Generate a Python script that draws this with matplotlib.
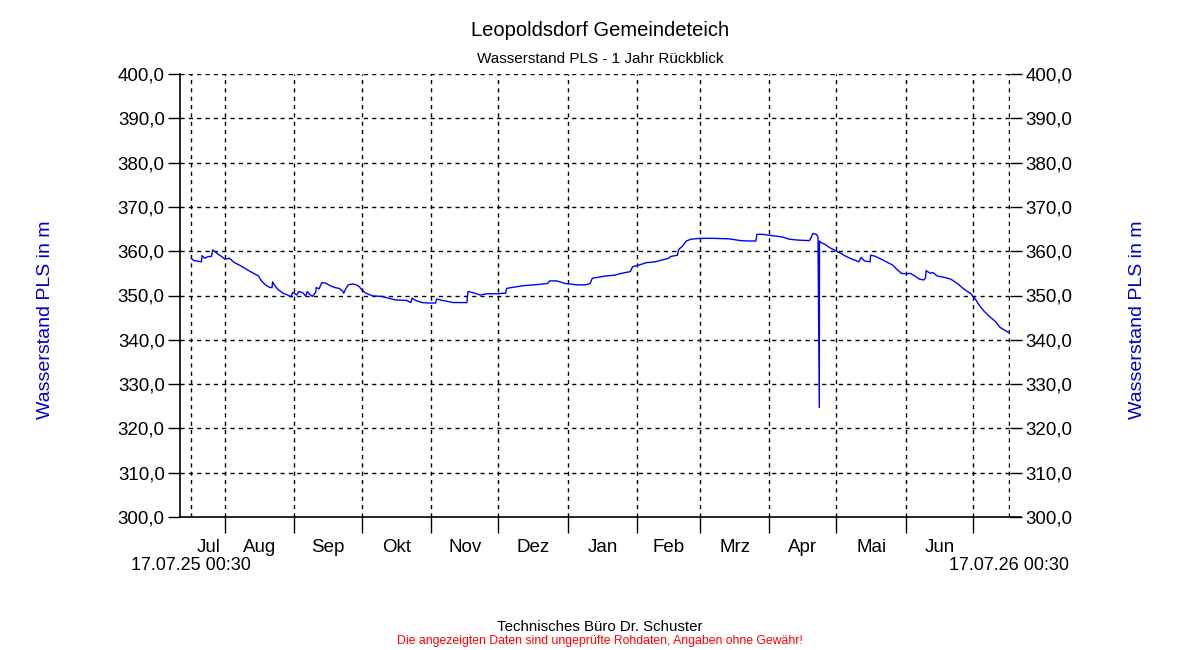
import matplotlib
matplotlib.use("Agg")
import matplotlib.pyplot as plt
import matplotlib.dates as mdates
import matplotlib.transforms as mtransforms
import pandas as pd
from matplotlib.ticker import FuncFormatter, FixedLocator

plt.rcParams['font.family'] = ['Liberation Sans', 'DejaVu Sans']

# ---------------- data ----------------
times = [
    "2025-07-17 00:30", "2025-07-18", "2025-07-21 12:00", "2025-07-21 18:00", "2025-07-23",
    "2025-07-24 12:00", "2025-07-26", "2025-07-26 12:00", "2025-07-27", "2025-07-29",
    "2025-07-30 12:00", "2025-08-01", "2025-08-03", "2025-08-05", "2025-08-08",
    "2025-08-10", "2025-08-13", "2025-08-16", "2025-08-17", "2025-08-19",
    "2025-08-21", "2025-08-22", "2025-08-22 06:00", "2025-08-23", "2025-08-24 12:00",
    "2025-08-27", "2025-08-29", "2025-08-30 12:00", "2025-08-31 06:00", "2025-09-01",
    "2025-09-02", "2025-09-03", "2025-09-04 18:00", "2025-09-06", "2025-09-06 18:00",
    "2025-09-07 18:00", "2025-09-09", "2025-09-10 12:00", "2025-09-10 18:00", "2025-09-12",
    "2025-09-13 06:00", "2025-09-15", "2025-09-17", "2025-09-19", "2025-09-21",
    "2025-09-22 12:00", "2025-09-23", "2025-09-24", "2025-09-25", "2025-09-27",
    "2025-09-28 12:00", "2025-09-30", "2025-10-01", "2025-10-03", "2025-10-06",
    "2025-10-10", "2025-10-13", "2025-10-16", "2025-10-21", "2025-10-23",
    "2025-10-23 12:00", "2025-10-25", "2025-10-28", "2025-10-31", "2025-11-03",
    "2025-11-03 12:00", "2025-11-06", "2025-11-11", "2025-11-17", "2025-11-17 12:00",
    "2025-11-20", "2025-11-23", "2025-11-26", "2025-12-01", "2025-12-03",
    "2025-12-04 06:00", "2025-12-04 18:00", "2025-12-07", "2025-12-12", "2025-12-19",
    "2025-12-23", "2025-12-24", "2025-12-27", "2025-12-31", "2026-01-02",
    "2026-01-05", "2026-01-09", "2026-01-11", "2026-01-12", "2026-01-18",
    "2026-01-22", "2026-01-25", "2026-01-29", "2026-01-30", "2026-02-02",
    "2026-02-05", "2026-02-09", "2026-02-12", "2026-02-15", "2026-02-16",
    "2026-02-19", "2026-02-19 12:00", "2026-02-20", "2026-02-21", "2026-02-23",
    "2026-02-25", "2026-03-01", "2026-03-07", "2026-03-14", "2026-03-19",
    "2026-03-23", "2026-03-26", "2026-03-26 12:00", "2026-03-29", "2026-04-01",
    "2026-04-04", "2026-04-07", "2026-04-10", "2026-04-14", "2026-04-19",
    "2026-04-19 18:00", "2026-04-20 12:00", "2026-04-22", "2026-04-22 18:00", "2026-04-23 08:00",
    "2026-04-23 10:00", "2026-04-24", "2026-04-26", "2026-04-28", "2026-05-01",
    "2026-05-03", "2026-05-05", "2026-05-08", "2026-05-11", "2026-05-12",
    "2026-05-13 12:00", "2026-05-16", "2026-05-16 06:00", "2026-05-18", "2026-05-21",
    "2026-05-24", "2026-05-26", "2026-05-28", "2026-05-30", "2026-06-01",
    "2026-06-03", "2026-06-05", "2026-06-07", "2026-06-09", "2026-06-09 18:00",
    "2026-06-10", "2026-06-12", "2026-06-13", "2026-06-15", "2026-06-18",
    "2026-06-21", "2026-06-24", "2026-06-27", "2026-06-30", "2026-07-02",
    "2026-07-04", "2026-07-06", "2026-07-08", "2026-07-11", "2026-07-13",
    "2026-07-15", "2026-07-17 00:30",
]
levels = [
    358.4, 357.9, 357.6, 359.0, 358.4,
    358.8, 358.8, 360.3, 360.1, 359.3,
    358.8, 358.2, 358.4, 357.5, 356.7,
    356.1, 355.2, 354.4, 353.5, 352.4,
    351.8, 351.8, 353.1, 352.4, 351.4,
    350.5, 350.1, 349.7, 350.7, 350.5,
    350.1, 350.9, 350.6, 349.9, 350.9,
    350.3, 349.8, 350.7, 351.8, 351.5,
    352.9, 352.8, 352.2, 351.8, 351.6,
    351.0, 350.5, 351.6, 352.4, 352.6,
    352.4, 352.0, 351.3, 350.5, 349.9,
    349.8, 349.4, 349.0, 348.9, 348.4,
    349.4, 348.9, 348.4, 348.3, 348.3,
    349.2, 348.9, 348.4, 348.4, 350.9,
    350.6, 350.1, 350.4, 350.4, 350.5,
    350.5, 351.6, 351.8, 352.2, 352.5,
    352.7, 353.3, 353.3, 352.7, 352.6,
    352.4, 352.4, 352.7, 353.9, 354.4,
    354.6, 355.0, 355.4, 356.5, 356.9,
    357.4, 357.6, 358.0, 358.4, 358.8,
    359.1, 360.3, 360.6, 361.0, 362.3,
    362.7, 362.9, 362.9, 362.8, 362.4,
    362.3, 362.3, 363.8, 363.8, 363.6,
    363.4, 363.2, 362.7, 362.5, 362.4,
    363.2, 364.0, 363.8, 363.2, 324.7,
    362.3, 362.0, 361.5, 360.8, 360.0,
    359.5, 358.9, 358.2, 357.6, 358.6,
    357.8, 357.6, 359.1, 358.9, 358.2,
    357.4, 356.9, 355.9, 355.0, 354.9,
    355.0, 354.4, 353.7, 353.5, 354.0,
    355.6, 355.0, 355.2, 354.4, 354.1,
    353.7, 352.7, 351.4, 350.4, 349.2,
    347.6, 346.4, 345.4, 344.1, 342.8,
    342.2, 341.6,
]
month_labels = ["Jul", "Aug", "Sep", "Okt", "Nov", "Dez", "Jan", "Feb", "Mrz", "Apr", "Mai", "Jun"]
month_starts = ["2025-08-01", "2025-09-01", "2025-10-01", "2025-11-01", "2025-12-01",
                "2026-01-01", "2026-02-01", "2026-03-01", "2026-04-01", "2026-05-01",
                "2026-06-01", "2026-07-01"]
start_time = "2025-07-17 00:30"
end_time = "2026-07-17 00:30"
start_label = "17.07.25 00:30"
end_label = "17.07.26 00:30"
y_ticks = [300, 310, 320, 330, 340, 350, 360, 370, 380, 390, 400]

# ---------------- figure ----------------
t = pd.to_datetime(times, format='mixed')
t0 = pd.Timestamp(start_time)
t1 = pd.Timestamp(end_time)
ms = pd.to_datetime(month_starts)

fig = plt.figure(figsize=(12, 6.5), dpi=100)
ax = fig.add_axes([180 / 1200, 1 - 517 / 650, (1010 - 180) / 1200, (517 - 74) / 650])

ax.plot(t, levels, color='#0000ff', lw=1.0, zorder=3)

ax.set_xlim(t0 - pd.Timedelta(days=5.1), t1 + pd.Timedelta(days=0.45))
ax.set_ylim(300, 400)

# y axis
ax.set_yticks(y_ticks)
ax.yaxis.set_major_formatter(FuncFormatter(lambda v, p: f"{v:.1f}".replace('.', ',')))
ax.tick_params(axis='y', which='major', direction='out', length=8.5, width=1,
               left=True, right=True, labelleft=True, labelright=True, labelsize=13.5,
               pad=2.5)

# x axis: month boundaries as major ticks, month labels centred in between
ax.xaxis.set_major_locator(FixedLocator(mdates.date2num(ms)))
ax.xaxis.set_major_formatter(FuncFormatter(lambda v, p: ""))
bounds = [t0] + list(ms)
mids = [bounds[i] + (bounds[i + 1] - bounds[i]) / 2 for i in range(len(bounds) - 1)]
ax.set_xticks(mdates.date2num(mids), labels=month_labels, minor=True)
ax.tick_params(axis='x', which='major', direction='out', length=11.5, width=1)
ax.tick_params(axis='x', which='minor', length=0, labelsize=13.5, pad=15.5)

# grid
grid_kw = dict(color='black', lw=1.0, ls=(0, (3, 3)), zorder=1)
for y in y_ticks[1:]:
    ax.axhline(y, **grid_kw)
for m in list(ms) + [t0, t1]:
    ax.axvline(m, **grid_kw)

for s in ['top', 'right']:
    ax.spines[s].set_visible(False)
ax.spines['left'].set_linewidth(1.2)
ax.spines['bottom'].set_linewidth(1.2)
# bottom axis line continues under the right tick marks
ax.plot([1, 1 + 11 / 830], [0, 0], transform=ax.transAxes, clip_on=False, color='black', lw=1.2)

# start / end labels
trans = mtransforms.blended_transform_factory(ax.transData, fig.transFigure)
ax.text(t0, 1 - 565 / 650, start_label, transform=trans, ha='center', va='center', fontsize=13)
ax.text(t1, 1 - 565 / 650, end_label, transform=trans, ha='center', va='center', fontsize=13)

# y labels
fig.text(46 / 1200, 1 - 320 / 650, "Wasserstand PLS in m", rotation=90, color='#0000cc',
         ha='center', va='center', fontsize=14)
fig.text(1137 / 1200, 1 - 320 / 650, "Wasserstand PLS in m", rotation=90, color='#0000cc',
         ha='center', va='center', fontsize=14)

# titles
fig.text(600 / 1200, 1 - 30 / 650, "Leopoldsdorf Gemeindeteich", ha='center', va='center', fontsize=14.5)
fig.text(600 / 1200, 1 - 59 / 650, "Wasserstand PLS - 1 Jahr Rückblick", ha='center', va='center', fontsize=11)
fig.text(600 / 1200, 1 - 627 / 650, "Technisches Büro Dr. Schuster", ha='center', va='center', fontsize=10.8)
fig.text(600 / 1200, 1 - 641 / 650, "Die angezeigten Daten sind ungeprüfte Rohdaten, Angaben ohne Gewähr!",
         ha='center', va='center', fontsize=8.8, color='#ff0000')

fig.savefig("out.png", dpi=100)
